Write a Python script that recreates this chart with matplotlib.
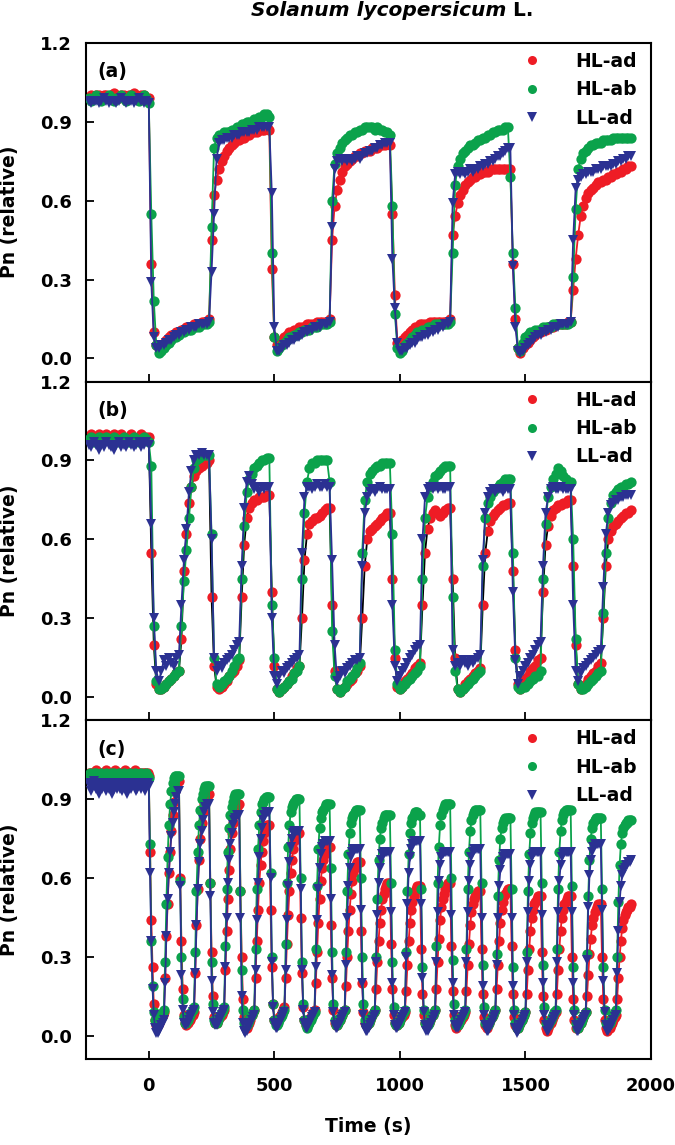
import numpy as np
import matplotlib.pyplot as plt
from matplotlib.lines import Line2D

plt.rcParams['font.family'] = ['DejaVu Sans']
plt.rcParams['font.weight'] = 'bold'
plt.rcParams['axes.labelweight'] = 'bold'

# sampling times (s)
t_ab = np.arange(-240, 1921, 10)
t_c = np.arange(-240, 1921, 5)

# ---- panel (a): 240 s dark / 240 s light, values in % of initial ----
hl_ad_a = [
    99, 100, 99, 100, 100, 99, 100, 100, 99, 100, 101, 100, 99, 100, 100, 99, 100, 100, 101, 100, 99, 100, 100, 99,
    99, 36, 10, 5, 4, 5, 6, 7, 8, 9, 9, 10, 10, 11, 11, 12, 12, 12, 13, 13, 13, 14, 14, 14,
    15, 45, 62, 68, 72, 75, 77, 79, 80, 81, 82, 83, 83, 84, 84, 85, 85, 86, 86, 86, 87, 87, 87, 88,
    87, 34, 8, 5, 6, 7, 8, 9, 10, 10, 11, 11, 12, 12, 12, 13, 13, 13, 13, 14, 14, 14, 14, 14,
    15, 45, 58, 64, 68, 71, 73, 74, 75, 76, 77, 77, 78, 78, 79, 79, 79, 80, 80, 80, 81, 81, 81, 82,
    81, 55, 24, 6, 5, 7, 8, 9, 10, 11, 12, 12, 13, 13, 13, 13, 14, 14, 14, 14, 14, 14, 14, 14,
    15, 47, 54, 59, 62, 64, 66, 67, 68, 69, 69, 70, 70, 71, 71, 71, 72, 72, 72, 72, 72, 72, 72, 72,
    72, 36, 15, 4, 2, 4, 5, 6, 7, 8, 9, 10, 10, 11, 11, 12, 12, 12, 13, 13, 13, 13, 13, 14,
    14, 26, 38, 47, 54, 58, 61, 63, 64, 65, 66, 67, 67, 68, 68, 69, 69, 70, 70, 71, 71, 72, 72, 73, 73,
]
hl_ab_a = [
    99, 98, 99, 100, 99, 98, 99, 99, 100, 99, 98, 99, 99, 100, 99, 98, 99, 100, 99, 99, 98, 99, 100, 99,
    97, 55, 22, 5, 2, 3, 4, 5, 6, 7, 8, 8, 9, 10, 10, 11, 11, 11, 12, 12, 12, 13, 13, 13,
    14, 50, 80, 84, 85, 85, 86, 86, 86, 87, 87, 88, 88, 89, 89, 90, 90, 90, 91, 91, 92, 92, 93, 93,
    92, 40, 8, 3, 4, 5, 6, 7, 8, 8, 9, 9, 10, 10, 11, 11, 11, 12, 12, 12, 13, 13, 13, 13,
    14, 60, 74, 78, 80, 82, 83, 84, 85, 85, 86, 86, 87, 87, 88, 88, 88, 88, 87, 88, 87, 87, 86, 86,
    85, 58, 17, 4, 2, 3, 5, 6, 7, 8, 9, 10, 10, 11, 11, 12, 12, 12, 13, 13, 13, 13, 13, 13,
    14, 40, 66, 73, 76, 78, 79, 80, 81, 81, 82, 83, 83, 84, 84, 85, 85, 86, 86, 87, 87, 87, 88, 88,
    69, 40, 19, 4, 3, 6, 8, 9, 10, 10, 11, 11, 11, 12, 12, 12, 12, 13, 13, 13, 13, 13, 13, 13,
    14, 31, 57, 72, 76, 78, 79, 80, 81, 81, 82, 82, 82, 83, 83, 83, 83, 84, 84, 84, 84, 84, 84, 84, 84,
]
ll_ad_a = [
    98, 97, 98, 98, 97, 98, 99, 98, 97, 98, 98, 97, 98, 99, 98, 97, 98, 98, 97, 98, 99, 98, 97, 98,
    97, 29, 8, 4, 4, 5, 5, 6, 7, 7, 8, 9, 9, 10, 10, 11, 11, 12, 12, 12, 13, 13, 13, 13,
    14, 33, 55, 76, 82, 83, 83, 84, 84, 84, 85, 85, 85, 86, 86, 86, 86, 87, 87, 87, 88, 88, 88, 88,
    88, 63, 12, 3, 3, 4, 5, 5, 6, 7, 7, 8, 8, 9, 10, 10, 11, 11, 12, 12, 12, 13, 13, 13,
    14, 50, 72, 75, 76, 75, 76, 75, 76, 75, 76, 77, 76, 77, 78, 78, 79, 79, 80, 80, 81, 81, 82, 82,
    82, 38, 19, 6, 3, 3, 4, 4, 5, 6, 6, 7, 8, 8, 9, 9, 10, 10, 11, 11, 12, 12, 13, 13,
    14, 59, 70, 71, 70, 71, 70, 71, 72, 71, 72, 72, 73, 73, 74, 74, 75, 75, 76, 77, 77, 78, 79, 80,
    80, 35, 12, 3, 2, 3, 4, 5, 6, 7, 8, 9, 9, 10, 10, 11, 11, 12, 12, 12, 13, 13, 13, 13,
    14, 45, 65, 68, 69, 70, 70, 71, 71, 71, 72, 72, 72, 73, 73, 73, 73, 74, 74, 75, 75, 76, 76, 77, 77,
]

# ---- panel (b): 120 s dark / 120 s light ----
hl_ad_b = [
    99, 100, 98, 99, 100, 99, 98, 100, 99, 99, 100, 98, 99, 100, 99, 98, 99, 100, 99, 98, 99, 100, 99, 99,
    99, 55, 20, 5, 3, 3, 4, 5, 6, 7, 8, 9, 10, 22, 48, 62, 74, 80, 84, 86, 87, 88, 89, 89,
    90, 38, 12, 4, 3, 4, 5, 6, 8, 9, 10, 12, 14, 38, 58, 68, 72, 74, 75, 75, 76, 76, 76, 77,
    77, 40, 12, 3, 2, 3, 4, 5, 6, 8, 9, 11, 12, 30, 52, 62, 66, 67, 68, 68, 69, 70, 71, 72,
    72, 35, 10, 3, 2, 3, 4, 5, 6, 7, 9, 10, 12, 30, 50, 60, 63, 64, 65, 66, 67, 68, 69, 70,
    70, 45, 15, 4, 3, 4, 6, 7, 8, 9, 11, 12, 13, 35, 55, 64, 68, 70, 71, 70, 69, 70, 71, 72,
    72, 45, 15, 3, 2, 3, 5, 6, 7, 8, 9, 10, 11, 35, 55, 63, 67, 69, 70, 71, 72, 73, 73, 74,
    74, 48, 18, 5, 3, 5, 7, 8, 10, 11, 12, 14, 15, 40, 58, 65, 69, 71, 72, 73, 73, 74, 74, 75,
    75, 50, 20, 5, 3, 4, 5, 7, 8, 9, 10, 12, 13, 30, 50, 60, 63, 65, 66, 67, 68, 69, 70, 70,
    71,
]
hl_ab_b = [
    98, 99, 97, 98, 99, 97, 98, 99, 98, 97, 99, 98, 97, 98, 99, 98, 97, 98, 99, 98, 97, 98, 99, 98,
    97, 88, 27, 6, 3, 3, 4, 5, 6, 7, 8, 9, 10, 27, 44, 56, 68, 80, 87, 90, 91, 92, 92, 92,
    92, 62, 15, 5, 4, 5, 6, 7, 8, 10, 12, 14, 15, 45, 65, 78, 83, 85, 87, 88, 89, 90, 90, 91,
    91, 35, 15, 3, 2, 3, 4, 5, 6, 7, 9, 10, 12, 45, 70, 82, 87, 89, 89, 90, 90, 90, 90, 90,
    82, 25, 8, 3, 2, 3, 4, 6, 7, 8, 9, 11, 13, 55, 75, 82, 85, 86, 87, 88, 88, 89, 89, 89,
    89, 62, 18, 5, 3, 4, 5, 6, 7, 8, 9, 10, 12, 45, 68, 76, 80, 82, 84, 85, 86, 87, 88, 88,
    88, 38, 10, 3, 2, 3, 4, 5, 6, 7, 8, 9, 10, 50, 68, 74, 76, 78, 79, 80, 81, 82, 83, 83,
    83, 55, 15, 4, 3, 4, 4, 5, 6, 7, 8, 8, 10, 45, 66, 76, 80, 83, 85, 87, 86, 84, 83, 82,
    82, 60, 22, 5, 3, 3, 4, 5, 6, 7, 8, 9, 10, 32, 55, 68, 74, 77, 78, 79, 80, 80, 81, 81,
    82,
]
ll_ad_b = [
    96, 95, 97, 96, 94, 96, 95, 97, 96, 95, 94, 96, 97, 95, 96, 95, 97, 96, 95, 96, 97, 95, 96, 97,
    96, 66, 30, 10, 6, 10, 14, 12, 15, 13, 12, 15, 16, 35, 52, 64, 78, 86, 90, 92, 92, 93, 92, 92,
    92, 60, 15, 10, 12, 11, 13, 14, 15, 16, 18, 20, 21, 50, 72, 82, 84, 81, 79, 80, 78, 80, 79, 80,
    80, 30, 8, 5, 8, 10, 9, 11, 12, 13, 14, 15, 16, 55, 76, 80, 80, 79, 80, 81, 80, 80, 81, 80,
    80, 52, 20, 6, 8, 10, 9, 11, 12, 13, 14, 14, 15, 50, 70, 76, 78, 79, 78, 79, 80, 79, 79, 79,
    79, 35, 12, 6, 8, 10, 11, 13, 15, 16, 18, 19, 20, 60, 76, 79, 80, 79, 80, 79, 80, 79, 79, 80,
    80, 18, 12, 13, 12, 14, 13, 12, 14, 13, 14, 15, 16, 52, 70, 76, 78, 79, 78, 79, 79, 78, 79, 79,
    79, 40, 14, 5, 8, 10, 12, 13, 15, 16, 18, 20, 21, 50, 70, 76, 79, 80, 79, 79, 80, 79, 79, 79,
    79, 35, 10, 6, 9, 11, 12, 13, 14, 15, 16, 17, 18, 42, 62, 70, 73, 74, 75, 75, 76, 76, 77, 77,
    77,
]

# ---- panel (c): 60 s dark / 60 s light ----
hl_ad_c = [
    100, 99, 100, 100, 99, 100, 101, 100, 99, 100, 100, 99,
    100, 100, 101, 100, 99, 100, 100, 99, 100, 101, 100, 100,
    99, 100, 100, 99, 100, 101, 100, 100, 99, 100, 100, 99,
    100, 101, 100, 99, 100, 100, 99, 100, 100, 99, 100, 100,
    99, 70, 44, 26, 12, 6, 4, 4, 5, 6, 7, 8, 9, 22, 38, 50, 62, 70, 78, 84, 89, 93, 96, 97,
    97, 60, 36, 18, 8, 5, 4, 5, 6, 6, 7, 8, 9, 24, 42, 56, 67, 75, 81, 85, 88, 90, 91, 92,
    92, 58, 32, 15, 7, 5, 5, 6, 7, 7, 8, 9, 10, 25, 40, 52, 63, 71, 77, 81, 84, 86, 87, 88,
    88, 55, 30, 14, 7, 4, 3, 4, 5, 6, 8, 9, 10, 22, 36, 48, 58, 65, 70, 74, 77, 79, 80, 80,
    80, 48, 26, 12, 6, 5, 5, 6, 7, 8, 9, 10, 11, 22, 35, 46, 55, 62, 67, 71, 74, 76, 77, 77,
    77, 45, 24, 11, 6, 4, 4, 5, 6, 7, 8, 9, 10, 20, 32, 43, 52, 59, 64, 67, 69, 71, 72, 72,
    72, 42, 22, 10, 5, 4, 4, 5, 6, 7, 8, 9, 10, 19, 30, 40, 48, 54, 59, 62, 64, 65, 66, 66,
    66, 40, 20, 9, 5, 4, 4, 5, 6, 7, 8, 9, 10, 18, 28, 36, 43, 48, 52, 54, 56, 57, 58, 58,
    58, 35, 18, 8, 5, 4, 4, 5, 6, 7, 7, 8, 9, 17, 27, 36, 43, 48, 51, 53, 55, 56, 57, 57,
    57, 33, 16, 8, 5, 4, 5, 5, 6, 7, 8, 9, 10, 18, 28, 37, 44, 49, 52, 54, 56, 57, 58, 58,
    58, 34, 17, 8, 4, 3, 4, 5, 6, 6, 7, 8, 9, 17, 27, 35, 42, 47, 50, 52, 53, 54, 55, 55,
    55, 33, 16, 7, 4, 3, 4, 5, 6, 7, 8, 9, 10, 18, 27, 36, 43, 48, 51, 53, 54, 55, 56, 56,
    56, 34, 16, 7, 4, 3, 3, 4, 5, 6, 7, 8, 9, 16, 25, 33, 40, 45, 48, 50, 51, 52, 53, 53,
    53, 32, 15, 6, 3, 2, 3, 4, 5, 6, 7, 8, 9, 16, 25, 33, 40, 45, 48, 50, 51, 52, 53, 53,
    53, 30, 14, 6, 3, 3, 3, 4, 5, 6, 7, 8, 9, 15, 23, 31, 37, 42, 45, 47, 48, 49, 50, 50,
    50, 30, 14, 6, 3, 2, 3, 3, 4, 5, 6, 7, 8, 14, 22, 30, 36, 41, 44, 46, 47, 48, 49, 49,
    50,
]
hl_ab_c = [
    99, 100, 99, 98, 100, 99, 100, 99, 98, 99, 100, 99,
    98, 99, 100, 99, 99, 98, 100, 99, 100, 99, 98, 99,
    100, 99, 98, 99, 100, 99, 99, 98, 99, 100, 99, 98,
    99, 100, 99, 99, 98, 99, 100, 99, 98, 99, 100, 99,
    98, 73, 36, 19, 9, 6, 5, 5, 6, 7, 8, 9, 10, 28, 50, 68, 80, 88, 93, 96, 98, 99, 99, 99,
    99, 59, 30, 14, 7, 5, 5, 6, 7, 8, 9, 10, 11, 32, 55, 70, 80, 86, 90, 92, 94, 95, 95, 95,
    95, 58, 28, 12, 6, 5, 5, 6, 7, 8, 9, 10, 11, 34, 56, 70, 79, 84, 87, 89, 91, 92, 92, 92,
    92, 55, 25, 10, 5, 4, 4, 5, 6, 7, 8, 9, 10, 33, 56, 71, 80, 85, 88, 89, 90, 91, 91, 91,
    91, 62, 30, 12, 6, 4, 4, 5, 6, 7, 8, 9, 10, 35, 58, 72, 80, 85, 87, 88, 89, 90, 90, 90,
    90, 60, 28, 12, 6, 4, 3, 4, 5, 6, 7, 8, 9, 33, 57, 71, 79, 83, 85, 86, 87, 88, 88, 88,
    88, 64, 32, 12, 6, 4, 4, 5, 6, 7, 8, 9, 10, 32, 55, 69, 77, 81, 83, 84, 85, 86, 86, 86,
    86, 60, 30, 12, 6, 4, 4, 5, 6, 7, 8, 9, 10, 30, 52, 67, 75, 79, 81, 83, 84, 84, 84, 84,
    84, 58, 28, 11, 5, 4, 4, 5, 6, 7, 8, 9, 10, 32, 55, 69, 77, 81, 83, 84, 85, 85, 85, 84,
    84, 56, 26, 10, 5, 4, 4, 5, 6, 7, 8, 9, 10, 34, 58, 72, 80, 84, 86, 87, 88, 88, 88, 88,
    88, 60, 29, 12, 6, 4, 4, 5, 6, 7, 8, 9, 10, 33, 56, 70, 78, 82, 84, 85, 86, 86, 86, 86,
    86, 58, 27, 11, 5, 4, 4, 5, 6, 7, 8, 9, 10, 31, 53, 67, 75, 79, 81, 82, 83, 83, 83, 83,
    83, 56, 26, 10, 5, 3, 3, 4, 5, 6, 7, 8, 9, 32, 55, 69, 77, 81, 83, 84, 85, 85, 85, 85,
    85, 58, 27, 11, 5, 4, 4, 5, 6, 7, 8, 9, 10, 33, 56, 70, 78, 82, 84, 85, 86, 86, 86, 86,
    86, 57, 26, 10, 5, 3, 3, 4, 5, 6, 7, 8, 9, 31, 53, 67, 75, 79, 81, 82, 83, 83, 83, 83,
    83, 56, 26, 10, 5, 4, 4, 5, 6, 7, 8, 9, 10, 30, 51, 65, 73, 77, 79, 80, 81, 81, 82, 82,
    82,
]
ll_ad_c = [
    96, 95, 93, 96, 97, 95, 94, 96, 92, 95, 96, 94,
    95, 96, 93, 95, 94, 96, 95, 92, 94, 96, 95, 94,
    96, 94, 95, 93, 96, 95, 94, 92, 95, 96, 94, 95,
    96, 95, 93, 94, 96, 95, 94, 96, 95, 93, 95, 96,
    95, 62, 36, 18, 8, 3, 1, 1, 2, 3, 4, 5, 6, 20, 38, 52, 62, 70, 76, 81, 85, 88, 91, 93,
    93, 57, 23, 10, 5, 4, 4, 5, 6, 7, 8, 9, 10, 24, 42, 56, 66, 73, 78, 82, 85, 87, 88, 88,
    88, 53, 21, 9, 5, 4, 4, 5, 6, 7, 8, 9, 10, 26, 45, 58, 67, 73, 77, 80, 82, 83, 84, 84,
    84, 45, 15, 5, 2, 1, 2, 3, 4, 5, 6, 7, 8, 25, 44, 58, 68, 75, 79, 82, 84, 85, 85, 85,
    85, 60, 28, 11, 5, 3, 3, 4, 5, 6, 7, 8, 9, 25, 44, 57, 66, 72, 75, 77, 78, 78, 78, 78,
    78, 56, 25, 10, 5, 3, 3, 4, 5, 6, 7, 8, 9, 26, 44, 56, 64, 69, 72, 73, 74, 74, 74, 74,
    74, 52, 23, 9, 4, 3, 3, 4, 5, 6, 7, 8, 9, 27, 45, 57, 64, 68, 70, 71, 71, 71, 71, 71,
    71, 48, 20, 8, 3, 2, 2, 3, 4, 5, 6, 7, 8, 28, 46, 58, 64, 67, 69, 70, 70, 70, 70, 70,
    70, 47, 20, 8, 4, 3, 3, 4, 5, 6, 7, 8, 9, 30, 50, 62, 68, 71, 73, 74, 74, 74, 74, 74,
    74, 50, 22, 9, 4, 2, 2, 3, 4, 5, 6, 7, 8, 28, 47, 59, 65, 68, 69, 70, 70, 70, 70, 70,
    70, 46, 20, 8, 4, 3, 3, 4, 5, 6, 7, 8, 9, 28, 47, 59, 65, 68, 70, 71, 71, 71, 71, 71,
    71, 45, 19, 8, 4, 2, 2, 3, 4, 5, 6, 7, 8, 27, 45, 57, 63, 66, 68, 69, 69, 69, 69, 69,
    69, 45, 19, 8, 3, 1, 2, 3, 4, 5, 6, 7, 8, 28, 47, 59, 65, 68, 69, 70, 70, 70, 70, 70,
    70, 46, 20, 8, 4, 2, 2, 3, 4, 5, 6, 7, 8, 28, 47, 59, 65, 68, 69, 70, 70, 70, 70, 70,
    70, 47, 20, 8, 4, 2, 2, 3, 4, 5, 6, 7, 8, 29, 49, 61, 67, 70, 72, 73, 73, 73, 73, 73,
    73, 48, 21, 9, 4, 2, 2, 3, 4, 5, 6, 7, 8, 24, 40, 51, 57, 61, 63, 64, 65, 65, 66, 66,
    67,
]

labels = ['HL-ad', 'HL-ab', 'LL-ad']
colors = ['#ee1c25', '#0ba24b', '#2b3192']
markers = ['o', 'o', 'v']

panels = [
    ('(a)', t_ab, [hl_ad_a, hl_ab_a, ll_ad_a], colors[0]),
    ('(b)', t_ab, [hl_ad_b, hl_ab_b, ll_ad_b], 'black'),
    ('(c)', t_c, [hl_ad_c, hl_ab_c, ll_ad_c], colors[0]),
]

fig = plt.figure(figsize=(6.75, 11.45), dpi=100)

left, width = 86 / 675, 565 / 675
h = 338.7 / 1145
bottom0 = 1 - 1059 / 1145

for i, (tag, t, series, red_line) in enumerate(panels):
    ax = fig.add_axes([left, bottom0 + (2 - i) * h, width, h])
    for k, y in enumerate(series):
        lc = red_line if k == 0 else colors[k]
        ax.plot(t, np.array(y) / 100, color=lc, lw=1.3, zorder=2 + k)
        ax.plot(t, np.array(y) / 100, ls='none', marker=markers[k], ms=7.4,
                color=colors[k], mew=0, zorder=2 + k)

    ax.set_xlim(-250, 2000)
    ax.set_ylim(-0.088, 1.2)
    ax.set_xticks([0, 500, 1000, 1500, 2000])
    ax.set_yticks([0.0, 0.3, 0.6, 0.9, 1.2])
    ax.yaxis.set_major_formatter(plt.FormatStrFormatter('%.1f'))
    ax.tick_params(direction='in', length=6, width=1.3, labelsize=13)
    ax.tick_params(axis='y', pad=10)
    ax.tick_params(axis='x', pad=13)
    for s in ax.spines.values():
        s.set_linewidth(1.5)
    if i < 2:
        ax.tick_params(axis='x', labelbottom=False)
    else:
        ax.set_xlabel('Time (s)', fontsize=13.5, labelpad=16)

    ax.set_ylabel('Pn (relative)', fontsize=13.5)
    ax.yaxis.set_label_coords(-0.118, 0.5)

    ax.text(0.021, 0.915, tag, transform=ax.transAxes, fontsize=13.5,
            ha='left', va='center')

    handles = [Line2D([], [], ls='none', marker=markers[k], ms=6.5, color=colors[k], mew=0)
               for k in range(3)]
    ax.legend(handles, labels, loc='upper right', bbox_to_anchor=(0.975, 0.973),
              frameon=False, borderpad=0, borderaxespad=0, handlelength=1.0,
              handletextpad=1.8, labelspacing=0.5,
              prop={'weight': 'bold', 'size': 13.5})

fig.text(506 / 675, 1 - 10 / 1145, 'Solanum lycopersicum', style='italic',
         fontsize=14.5, ha='right', va='center')
fig.text(506 / 675, 1 - 10 / 1145, ' L.', fontsize=14.5, ha='left', va='center')

fig.savefig('out.png', dpi=100)
